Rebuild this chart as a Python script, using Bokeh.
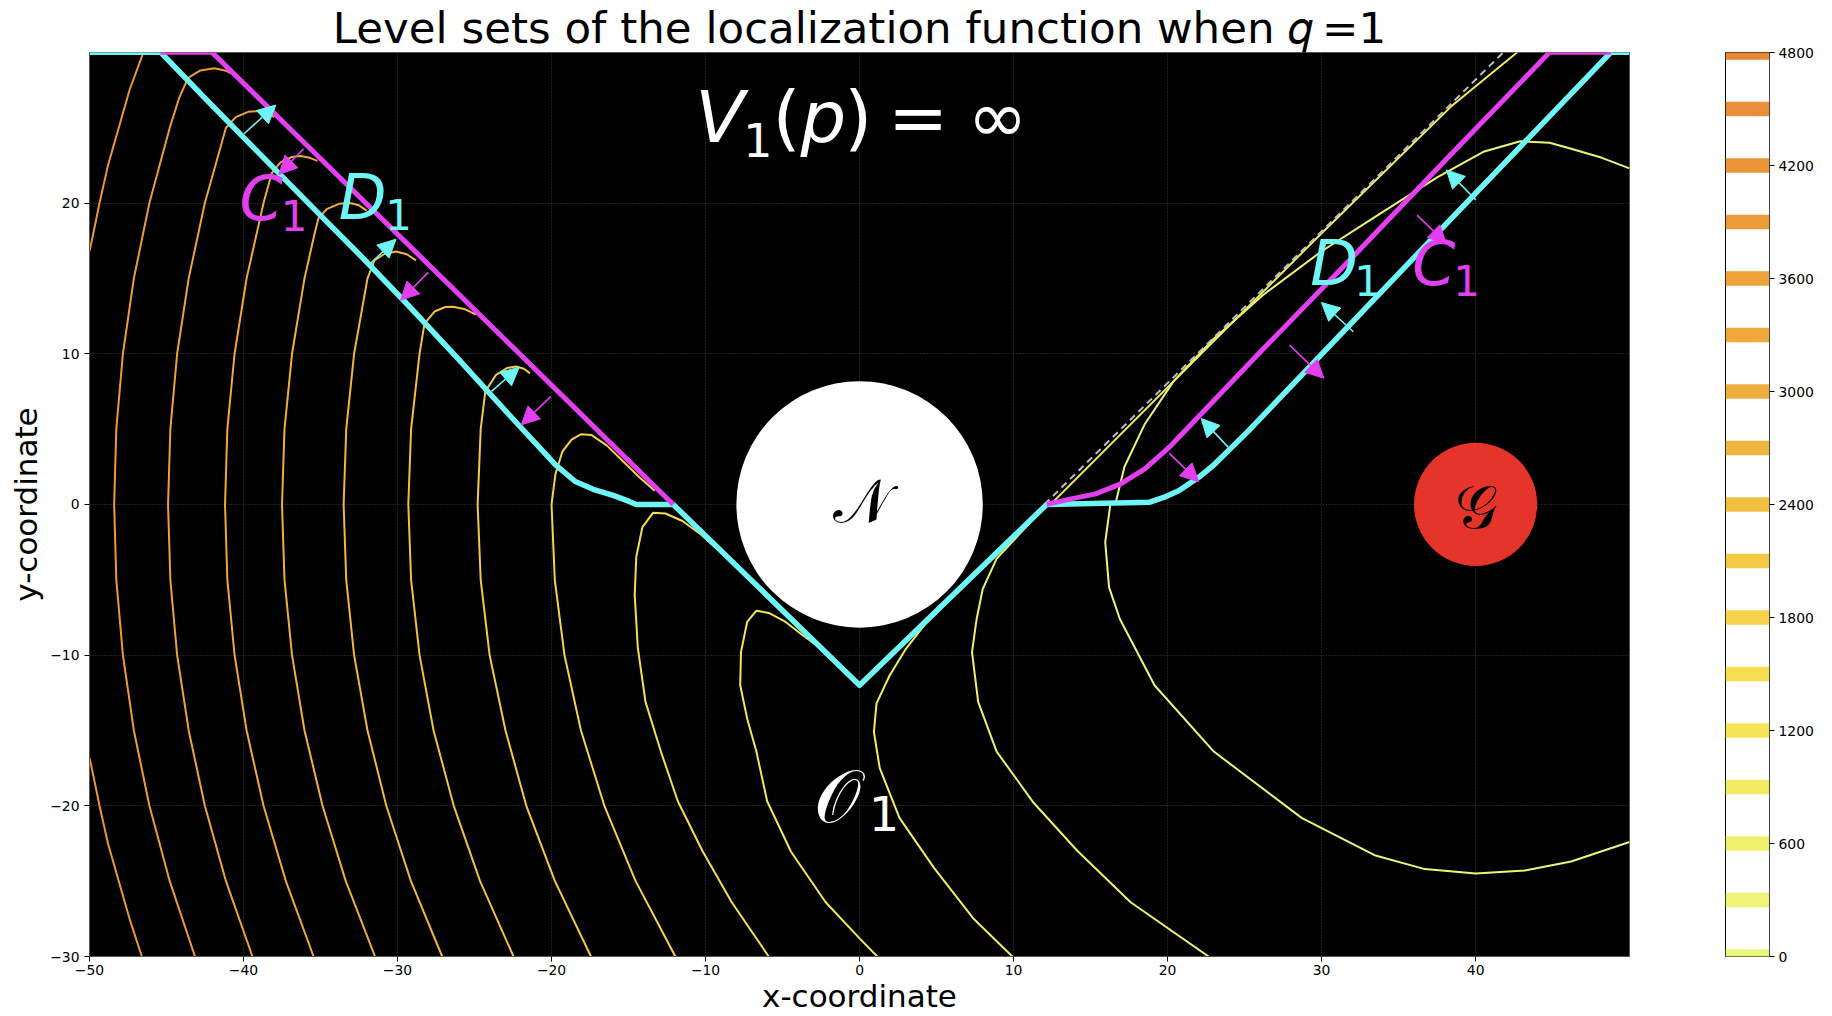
import math
from bokeh.plotting import figure
from bokeh.models import Label, Arrow, NormalHead, FixedTicker, Range1d, ColumnDataSource
from bokeh.layouts import row
from bokeh.embed import file_html
from bokeh.resources import INLINE

FONT = "DejaVu Sans"

# ---------------- data ----------------
TITLE = "Level sets of the localization function when \U0001D45E\u2009=1"
X_TICKS = [-50, -40, -30, -20, -10, 0, 10, 20, 30, 40]
Y_TICKS = [-30, -20, -10, 0, 10, 20]
CB_TICKS = [0, 600, 1200, 1800, 2400, 3000, 3600, 4200, 4800]
LEVELS = [0, 300, 600, 900, 1200, 1500, 1800, 2100, 2400, 2700, 3000, 3300, 3600, 3900, 4200, 4500, 4800]
LEVEL_COLORS = ["#e9f77e", "#edf478", "#f0f06c", "#f3eb60", "#f6e556", "#f7dd50", "#f6d34b",
                "#f4c946", "#f2bf42", "#f0b63f", "#efaf3e", "#eea83c", "#eda23b", "#ec9b39",
                "#eb9538", "#e98e37", "#e88736"]

# contour polylines
lvl4200_low_x = [-46.6, -47.4, -48.1, -48.8, -49.35, -49.75, -50.0]
lvl4200_low_y = [-30.0, -27.5, -25.0, -22.5, -20.0, -18.0, -16.8]
lvl4200_up_x = [-50.0, -49.75, -49.35, -48.8, -48.1, -47.4, -46.5]
lvl4200_up_y = [16.8, 18.0, 20.0, 22.5, 25.0, 27.5, 30.0]
lvl3900_x = [-43.15, -44.79, -46.11, -47.12, -47.83, -48.26, -48.4, -48.26, -47.83, -47.12, -46.11,
             -44.79, -44.17, -43.6, -42.8, -41.9, -41.2, -40.8]
lvl3900_y = [-30, -25, -20, -15, -10, -5, 0, 5, 10, 15, 20, 25, 27, 28.3, 28.8, 28.95, 28.8, 28.6]
lvl3600_x = [-39.42, -41.14, -42.51, -43.56, -44.31, -44.75, -44.9, -44.75, -44.31, -43.56, -42.51,
             -41.14, -40.5, -39.7, -39.0, -38.4, -38.0]
lvl3600_y = [-30, -25, -20, -15, -10, -5, 0, 5, 10, 15, 20, 25, 25.7, 26.05, 26.1, 25.95, 25.7]
lvl3300_x = [-35.45, -37.25, -38.7, -39.8, -40.58, -41.05, -41.2, -41.05, -40.58, -39.8, -38.7,
             -38.16, -37.6, -36.9, -36.3, -35.7, -35.2]
lvl3300_y = [-30, -25, -20, -15, -10, -5, 0, 5, 10, 15, 20, 22, 22.7, 23.05, 23.12, 23.0, 22.8]
lvl3000_x = [-31.46, -33.36, -34.87, -36.04, -36.85, -37.34, -37.5, -37.34, -36.85, -36.04, -35.38,
             -35.13, -34.6, -33.8, -33.1, -32.5, -32.0]
lvl3000_y = [-30, -25, -20, -15, -10, -5, 0, 5, 10, 15, 18, 19, 19.6, 19.95, 20.0, 19.85, 19.5]
lvl2700_x = [-27.1, -29.13, -30.73, -31.95, -32.82, -33.33, -33.5, -33.33, -32.82, -31.95, -31.5,
             -30.8, -30.1, -29.4, -28.8]
lvl2700_y = [-30, -25, -20, -15, -10, -5, 0, 5, 10, 15, 16.2, 16.65, 16.78, 16.6, 16.2]
lvl2400_x = [-22.47, -24.64, -26.35, -27.66, -28.57, -29.12, -29.3, -29.12, -28.57, -28.25, -27.6,
             -26.9, -26.4, -25.6, -24.9]
lvl2400_y = [-30, -25, -20, -15, -10, -5, 0, 5, 10, 12, 12.8, 13.1, 13.12, 12.95, 12.6]
lvl2100_x = [-17.44, -19.78, -21.64, -22.99, -24.02, -24.6, -24.8, -24.6, -24.3, -23.6, -22.9,
             -22.3, -21.8, -21.4]
lvl2100_y = [-30, -25, -20, -15, -10, -5, 0, 5, 7.5, 8.6, 9.05, 9.15, 9.0, 8.7]
lvl1800_x = [-11.96, -14.54, -16.57, -18.09, -19.16, -19.79, -20.0, -19.75, -19.3, -18.7, -18.1,
             -17.4, -16.4, -15.2, -14.3, -13.3]
lvl1800_y = [-30, -25, -20, -15, -10, -5, 0, 2.0, 3.5, 4.3, 4.65, 4.6, 3.9, 2.7, 1.8, 0.9]
lvl1500_x = [-5.9, -8.3, -10.2, -11.8, -12.9, -13.9, -14.4, -14.6, -14.5, -14.1, -13.4, -12.6,
             -11.5, -10.3, -9.2]
lvl1500_y = [-30, -26.4, -23.0, -19.7, -16.4, -13.1, -9.5, -6.0, -3.5, -1.5, -0.55, -0.6, -1.1,
             -2.0, -3.0]
lvl1200_x = [1.15, 0.0, -2.2, -4.45, -6.0, -6.7, -7.3, -7.75, -7.7, -7.3, -6.7, -5.9, -4.8, -3.8, -3.0]
lvl1200_y = [-30, -28.8, -26.4, -23.05, -19.7, -16.4, -14.2, -12.0, -9.8, -7.8, -7.05, -7.2, -7.8,
             -8.6, -9.2]
lvl900_x = [9.92, 7.37, 4.82, 2.59, 1.31, 0.93, 1.1, 1.95, 3.0, 4.18, 5.0]
lvl900_y = [-30, -27.46, -24.1, -20.8, -17.5, -15.1, -13.2, -11.35, -9.6, -8.04, -7.2]
lvl600_x = [22.66, 17.6, 14.15, 11.3, 8.9, 7.7, 7.3, 7.6, 8.0, 8.9, 10.9, 11.9]
lvl600_y = [-30, -26.4, -23.0, -19.8, -16.4, -13.1, -9.8, -7.6, -5.6, -3.6, -1.4, -0.2]
lvl300_low_x = [16.3, 15.95, 16.2, 16.9, 19.15, 23.0, 28.7, 33.5, 36.7, 40.0, 43.2, 46.2, 49.99]
lvl300_low_y = [0.13, -2.5, -5.5, -7.6, -12.0, -16.4, -20.8, -23.3, -24.2, -24.5, -24.3, -23.7, -22.4]
lvl300_up_x = [16.6, 17.2, 18.5, 20.4, 23.0, 26.2, 30.0, 33.8, 37.5, 40.5, 42.9, 44.8, 46.2, 48.2, 49.99]
lvl300_up_y = [0.0, 2.5, 5.3, 8.2, 11.0, 13.9, 16.8, 19.3, 21.7, 23.4, 24.1, 24.0, 23.6, 23.0, 22.3]
edge_x = [12.6, 29.9, 38.4, 42.7]
edge_y = [0.2, 17.9, 26.4, 30.0]

CONTOURS = [
    (4200, lvl4200_low_x, lvl4200_low_y), (4200, lvl4200_up_x, lvl4200_up_y),
    (3900, lvl3900_x, lvl3900_y), (3600, lvl3600_x, lvl3600_y), (3300, lvl3300_x, lvl3300_y),
    (3000, lvl3000_x, lvl3000_y), (2700, lvl2700_x, lvl2700_y), (2400, lvl2400_x, lvl2400_y),
    (2100, lvl2100_x, lvl2100_y), (1800, lvl1800_x, lvl1800_y), (1500, lvl1500_x, lvl1500_y),
    (1200, lvl1200_x, lvl1200_y), (900, lvl900_x, lvl900_y), (600, lvl600_x, lvl600_y),
    (300, lvl300_low_x, lvl300_low_y), (300, lvl300_up_x, lvl300_up_y), (900, edge_x, edge_y),
]

# boundary curves D1 (cyan) and C1 (magenta)
cyan_x = [-50.0, -45.38, -42.35, -38.85, -35.5, -32.3, -29.29, -26.0, -22.8, -19.74, -18.46, -17.3,
          -16.0, -14.96, -14.5, -12.1, 0.0, 12.15, 18.84, 19.79, 20.75, 22.02, 22.98, 25.2, 37.0,
          48.78, 49.99]
cyan_y = [30.0, 30.0, 26.8, 23.16, 19.7, 16.4, 13.2, 9.6, 6.0, 2.63, 1.52, 1.0, 0.6, 0.2, 0.0, 0.0,
          -12.0, 0.0, 0.15, 0.48, 0.93, 1.8, 2.6, 4.83, 17.45, 30.0, 30.0]
mag_l_x = [-45.4, -42.04, -12.1]
mag_l_y = [30.0, 30.0, 0.0]
mag_r_x = [12.15, 13.74, 15.33, 16.92, 18.52, 20.11, 26.0, 32.0, 38.0, 44.8, 48.78]
mag_r_y = [0.0, 0.37, 0.7, 1.35, 2.36, 3.8, 10.1, 16.4, 22.8, 30.0, 30.0]
dash_l_x = [-12.0, -28.4]
dash_l_y = [0.0, 16.4]
dash_r_x = [12.0, 41.8]
dash_r_y = [0.0, 30.0]

# arrows (tail -> head)
cyan_arrow_x0 = [-39.97, -31.85, -23.9, 23.93, 32.06, 40.02]
cyan_arrow_y0 = [24.6, 15.9, 7.5, 3.8, 11.46, 20.2]
cyan_arrow_x1 = [-37.9, -30.1, -22.1, 22.18, 29.99, 38.1]
cyan_arrow_y1 = [26.5, 17.6, 9.1, 5.7, 13.4, 22.2]
mag_arrow_x0 = [-36.1, -28.0, -20.05, 20.1, 27.92, 36.2]
mag_arrow_y0 = [23.6, 15.4, 7.15, 3.4, 10.57, 19.2]
mag_arrow_x1 = [-37.7, -29.8, -21.97, 22.02, 30.15, 38.1]
mag_arrow_y1 = [21.9, 13.55, 5.28, 1.5, 8.37, 17.3]

# regions
N_center = (0.0, 0.0); N_radius = 8.0
G_center = (40.0, 0.0); G_radius = 4.0

CYAN = "#6ef6f6"
MAGENTA = "#e33ff0"
RED = "#e5342a"

TOP = 50          # page px above the plot frame
FRAME_H = 906     # plot frame height in px
BOTTOM = 60
PX_PER_Y = FRAME_H / 59.99
BASE_SHIFT = 0.41  # em shift that puts the alphabetic baseline where wanted

# ---------------- main figure ----------------
p = figure(width=1700, height=TOP + FRAME_H + BOTTOM, x_range=Range1d(-50, 49.99),
           y_range=Range1d(-30, 29.99), output_backend="svg", toolbar_location=None,
           title=TITLE,
           min_border_left=89, min_border_right=71, min_border_top=TOP, min_border_bottom=BOTTOM,
           background_fill_color="black", border_fill_color="white")
p.title.text_font = FONT
p.title.text_font_size = "43.5px"
p.title.text_font_style = "normal"
p.title.text_color = "black"
p.title.align = "center"
p.title.standoff = 0
p.title.offset = 0
p.outline_line_color = "#555555"
p.grid.grid_line_color = "#404040"
p.grid.grid_line_dash = "1 2"
p.grid.grid_line_width = 1
p.xaxis.ticker = FixedTicker(ticks=X_TICKS)
p.yaxis.ticker = FixedTicker(ticks=Y_TICKS)
p.xaxis.major_label_overrides = {t: str(t).replace("-", "\u2212") for t in X_TICKS}
p.yaxis.major_label_overrides = {t: str(t).replace("-", "\u2212") for t in Y_TICKS}
p.xaxis.axis_label = "x-coordinate"
p.yaxis.axis_label = "y-coordinate"
p.xaxis.axis_label_standoff = 0
p.yaxis.axis_label_standoff = 3
for ax in (p.xaxis[0], p.yaxis[0]):
    ax.major_label_text_font = FONT
    ax.major_label_text_font_size = "13.9px"
    ax.major_label_text_color = "black"
    ax.axis_label_text_font = FONT
    ax.axis_label_text_font_size = "31px"
    ax.axis_label_text_font_style = "normal"
    ax.axis_label_text_color = "black"
    ax.major_tick_out = 5
    ax.major_tick_in = 0
    ax.minor_tick_out = 0
    ax.minor_tick_in = 0
    ax.axis_line_color = "#555555"
    ax.major_tick_line_color = "black"
p.xaxis.major_label_standoff = 3
p.yaxis.major_label_standoff = 5

lvl_color = dict(zip(LEVELS, LEVEL_COLORS))
for lvl, xs, ys in CONTOURS:
    p.line(xs, ys, line_color=lvl_color[lvl], line_width=2)

p.line(dash_l_x, dash_l_y, line_color="#bdbdbd", line_width=2, line_dash="7 5")
p.line(dash_r_x, dash_r_y, line_color="#bdbdbd", line_width=2, line_dash="7 5")
p.line(cyan_x, cyan_y, line_color=CYAN, line_width=5.5, line_join="round")
p.multi_line([mag_l_x, mag_r_x], [mag_l_y, mag_r_y], line_color=MAGENTA, line_width=5, line_join="round")

p.circle(x=[N_center[0]], y=[N_center[1]], radius=N_radius, fill_color="white", line_color=None)
p.circle(x=[G_center[0]], y=[G_center[1]], radius=G_radius, fill_color=RED, line_color=None)

csrc = ColumnDataSource(dict(x0=cyan_arrow_x0, y0=cyan_arrow_y0, x1=cyan_arrow_x1, y1=cyan_arrow_y1))
msrc = ColumnDataSource(dict(x0=mag_arrow_x0, y0=mag_arrow_y0, x1=mag_arrow_x1, y1=mag_arrow_y1))
p.add_layout(Arrow(source=csrc, x_start="x0", y_start="y0", x_end="x1", y_end="y1",
                   line_color=CYAN, line_width=1.6,
                   end=NormalHead(size=18, fill_color=CYAN, line_color=CYAN, line_width=1)))
p.add_layout(Arrow(source=msrc, x_start="x0", y_start="y0", x_end="x1", y_end="y1",
                   line_color=MAGENTA, line_width=1.6,
                   end=NormalHead(size=18, fill_color=MAGENTA, line_color=MAGENTA, line_width=1)))


def txt(x, y, s, size, color="black", style="normal", align="left", baseline="alphabetic"):
    yy = y + (BASE_SHIFT * size / PX_PER_Y if baseline == "alphabetic" else 0.0)
    p.add_layout(Label(x=x, y=yy, text=s, text_font=FONT, text_font_size=f"{size}px",
                       text_color=color, text_font_style=style, text_align=align,
                       text_baseline=baseline))


# V1(p) = inf
txt(-10.67, 23.75, "V", 72, color="white", style="italic")
txt(-7.56, 22.96, "1", 46, color="white")
txt(-5.66, 23.75, "(", 72, color="white")
txt(-3.84, 23.75, "p", 72, color="white", style="italic")
txt(-0.99, 23.75, ")", 72, color="white")
txt(1.84, 23.75, "=", 72, color="white")
txt(7.0, 23.75, "\u221e", 72, color="white")
# C1 / D1 labels
txt(-40.26, 18.59, "C", 62, color=MAGENTA, style="italic")
txt(-37.58, 18.0, "1", 42, color=MAGENTA)
txt(-33.82, 18.66, "D", 62, color=CYAN, style="italic")
txt(-30.8, 18.13, "1", 42, color=CYAN)
txt(29.26, 14.29, "D", 62, color=CYAN, style="italic")
txt(32.12, 13.69, "1", 42, color=CYAN)
txt(35.88, 14.29, "C", 62, color=MAGENTA, style="italic")
txt(38.54, 13.69, "1", 42, color=MAGENTA)
# region symbols
txt(0.1, 0.25, "\U0001D4A9", 60, color="black", align="center", baseline="middle")
txt(40.04, -0.2, "\U0001D4A2", 60, color="black", align="center", baseline="middle")
txt(-2.95, -21.37, "\U0001D4AA", 74, color="white")
txt(0.6, -21.83, "1", 48, color="white")

# ---------------- colorbar ----------------
cb = figure(width=116, height=TOP + FRAME_H + BOTTOM, x_range=Range1d(0, 1), y_range=Range1d(0, 4800),
            output_backend="svg", toolbar_location=None, x_axis_location=None,
            y_axis_location="right", min_border_left=25, min_border_right=46,
            min_border_top=TOP, min_border_bottom=BOTTOM, background_fill_color="white")
cb.title = None
cb.grid.visible = False
cb.outline_line_color = "black"
cb.quad(left=0, right=1, bottom=[l - 38 for l in LEVELS], top=[l + 38 for l in LEVELS],
        fill_color=LEVEL_COLORS, line_color=None)
cb.yaxis.ticker = FixedTicker(ticks=CB_TICKS)
cb.yaxis.major_label_text_font = FONT
cb.yaxis.major_label_text_font_size = "13.9px"
cb.yaxis.major_label_text_color = "black"
cb.yaxis.major_tick_out = 5
cb.yaxis.major_tick_in = 0
cb.yaxis.minor_tick_out = 0
cb.yaxis.minor_tick_in = 0
cb.yaxis.axis_line_color = "#444444"
cb.yaxis.major_label_standoff = 4

layout = row(p, cb)
open("out.html", "w").write(file_html(layout, INLINE))
